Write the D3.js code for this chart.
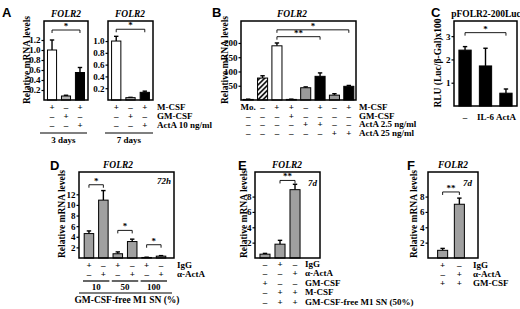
<!DOCTYPE html>
<html>
<head>
<meta charset="utf-8">
<script src="https://cdn.jsdelivr.net/npm/d3@7"></script>
<style>
  body { margin: 0; background: #fff; }
  text { font-family: 'Liberation Serif', 'Times New Roman', serif; font-weight: bold; }
  .letter { font-family: 'Liberation Sans', Arial, sans-serif; font-size: 13px; }
</style>
</head>
<body>
<svg id="fig" width="520" height="309"></svg>
<script>
// ---- data ----
// panel A
const aRowNames = ['M-CSF', 'GM-CSF', 'ActA 10 ng/ml'];
const aSigns = [['+', '–', '+'], ['–', '+', '–'], ['–', '–', '+']];
const aDays = ['3 days', '7 days'];
const a3Means = [1.0, 0.08, 0.55];
const a3Errs = [0.2, 0.015, 0.1];
const a7Means = [1.0, 0.04, 0.13];
const a7Errs = [0.08, 0.005, 0.02];
const a3Ticks = [0.2, 0.4, 0.6, 0.8, 1.0, 1.2];
const a7Ticks = [0.2, 0.4, 0.6, 0.8, 1.0];
const a3Max = 1.58, a7Max = 1.34;
const aBrackets = [[0, 2, '*', 1.4]];
const a7Brackets = [[0, 2, '*', 1.2]];

// panel B
const bRowNames = ['M-CSF', 'GM-CSF', 'ActA 2.5 ng/ml', 'ActA 25 ng/ml'];
const bSigns = [
  ['Mo.', '–', '+', '+', '–', '+', '–', '+'],
  ['–', '–', '–', '+', '–', '–', '–', '–'],
  ['–', '–', '–', '–', '+', '+', '–', '–'],
  ['–', '–', '–', '–', '–', '–', '+', '+']
];
const bMeans = [2, 77, 190, 2, 43, 83, 17, 48];
const bErrs = [1, 8, 10, 1, 3, 12, 5, 3];
const bTicks = [50, 100, 150, 200];
const bMax = 277;
const bBrackets = [[2, 5, '**', 222], [2, 7, '*', 246]];

// panel C
const cLabels = ['–', 'IL-6', 'ActA'];
const cMeans = [2.4, 1.72, 0.55];
const cErrs = [0.15, 0.76, 0.18];
const cTicks = [1, 2, 3];
const cMax = 3.65;
const cBrackets = [[0, 2, '*', 3.15]];

// panel D
const dRowNames = ['IgG', 'α-ActA'];
const dSigns = [['+', '–', '+', '–', '+', '–'], ['–', '+', '–', '+', '–', '+']];
const dGroups = ['10', '50', '100'];
const dMeans = [4.6, 10.9, 0.8, 3.1, 0.1, 0.35];
const dErrs = [0.5, 1.8, 0.35, 0.45, 0.05, 0.1];
const dTicks = [2, 4, 6, 8, 10, 12];
const dMax = 16.2;
const dBrackets = [[0, 1, '*', 13.8], [2, 3, '*', 5.2], [4, 5, '*', 2.5]];

// panel E
const eRowNames = ['IgG', 'α-ActA', 'GM-CSF', 'M-CSF', 'GM-CSF-free M1 SN (50%)'];
const eSigns = [['–', '+', '–'], ['–', '–', '+'], ['+', '–', '–'], ['–', '+', '+'], ['–', '+', '+']];
const eMeans = [0.5, 1.8, 8.9];
const eErrs = [0.1, 0.5, 0.7];
const eTicks = [2, 4, 6, 8];
const eMax = 11.2;
const eBrackets = [[1, 2, '**', 10.1]];

// panel F
const fRowNames = ['IgG', 'α-ActA', 'GM-CSF'];
const fSigns = [['+', '–'], ['–', '+'], ['+', '+']];
const fMeans = [1.0, 7.0];
const fErrs = [0.25, 0.8];
const fTicks = [2, 4, 6, 8];
const fMax = 11.2;
const fBrackets = [[0, 1, '**', 8.6]];

// ---- drawing ----
const svg = d3.select('#fig');
const defs = svg.append('defs');
defs.append('pattern')
  .attr('id', 'hatch')
  .attr('patternUnits', 'userSpaceOnUse')
  .attr('width', 3.5).attr('height', 3.5)
  .attr('patternTransform', 'rotate(45)')
  .call(p => {
    p.append('rect').attr('width', 3.5).attr('height', 3.5).attr('fill', 'white');
    p.append('line').attr('x1', 1).attr('y1', 0).attr('x2', 1).attr('y2', 3.5)
      .attr('stroke', 'black').attr('stroke-width', 1.6);
  });

function letter(t, x, y) {
  svg.append('text').attr('class', 'letter').attr('x', x).attr('y', y).text(t);
}

function label(t, x, y, opts = {}) {
  return svg.append('text')
    .attr('x', x).attr('y', y)
    .attr('font-size', opts.size || 9)
    .attr('text-anchor', opts.anchor || 'start')
    .attr('font-style', opts.italic ? 'italic' : 'normal')
    .text(t);
}

function yLabel(t, x, cy) {
  svg.append('text').attr('transform', `translate(${x},${cy}) rotate(-90)`)
    .attr('text-anchor', 'middle').attr('font-size', 9.5).text(t);
}

// generic bar panel
function panel(o) {
  const g = svg.append('g');
  const xScale = d3.scaleBand()
    .domain(d3.range(o.means.length))
    .range([o.x0, o.bx1 || o.x1])
    .paddingInner(o.pi).paddingOuter(o.po);
  const yScale = d3.scaleLinear().domain([0, o.max]).range([o.y1, o.y0]);
  const bw = xScale.bandwidth();
  const cx = i => xScale(i) + bw / 2;

  // axis ticks
  const yAxis = d3.axisLeft(yScale)
    .tickValues(o.ticks)
    .tickSize(2.5)
    .tickPadding(1)
    .tickFormat(o.fmt || d3.format('d'));
  const ag = g.append('g').attr('transform', `translate(${o.x0},0)`).call(yAxis);
  ag.select('.domain').remove();
  ag.selectAll('line').attr('stroke', 'black').attr('stroke-width', 1.2);
  ag.selectAll('text')
    .attr('font-family', "'Liberation Serif', serif")
    .attr('font-weight', 'bold')
    .attr('font-size', 9)
    .attr('fill', 'black');

  // error bars (upper only)
  o.means.forEach((m, i) => {
    const top = yScale(m + o.errs[i]);
    g.append('line').attr('x1', cx(i)).attr('x2', cx(i))
      .attr('y1', yScale(m)).attr('y2', top)
      .attr('stroke', 'black').attr('stroke-width', 1.4);
    g.append('line').attr('x1', cx(i) - 2.2).attr('x2', cx(i) + 2.2)
      .attr('y1', top).attr('y2', top)
      .attr('stroke', 'black').attr('stroke-width', 1.4);
  });

  // bars
  g.selectAll('rect.bar').data(o.means).enter().append('rect')
    .attr('class', 'bar')
    .attr('x', (d, i) => xScale(i))
    .attr('width', bw)
    .attr('y', d => yScale(d))
    .attr('height', d => o.y1 - yScale(d))
    .attr('fill', (d, i) => o.fills[i] === 'hatch' ? 'url(#hatch)' : o.fills[i])
    .attr('stroke', 'black')
    .attr('stroke-width', 1);

  // frame
  g.append('rect')
    .attr('x', o.x0).attr('y', o.y0)
    .attr('width', o.x1 - o.x0).attr('height', o.y1 - o.y0)
    .attr('fill', 'none').attr('stroke', 'black').attr('stroke-width', 1.5);

  // significance brackets
  (o.brackets || []).forEach(([a, b, star, lvl]) => {
    const y = yScale(lvl);
    g.append('path')
      .attr('d', `M${cx(a)},${y + 3} L${cx(a)},${y} L${cx(b)},${y} L${cx(b)},${y + 3}`)
      .attr('fill', 'none').attr('stroke', 'black').attr('stroke-width', 0.9);
    g.append('text')
      .attr('x', (cx(a) + cx(b)) / 2).attr('y', y - 1)
      .attr('text-anchor', 'middle').attr('font-size', 9)
      .text(star);
  });

  // sign rows under the axis
  (o.signs || []).forEach((row, r) => {
    row.forEach((s, i) => {
      g.append('text')
        .attr('x', cx(i)).attr('y', o.rowY + r * o.rowStep)
        .attr('text-anchor', 'middle').attr('font-size', 9)
        .text(s);
    });
  });
  (o.rowNames || []).forEach((n, r) => {
    g.append('text')
      .attr('x', o.nameX).attr('y', o.rowY + r * o.rowStep)
      .attr('font-size', 9).text(n);
  });
  return {xScale, yScale, cx, bw};
}

// ---- Panel A ----
letter('A', 2, 17);
label('FOLR2', 66, 17, {anchor: 'middle', italic: true, size: 9.5});
label('FOLR2', 130, 17, {anchor: 'middle', italic: true, size: 9.5});
yLabel('Relative mRNA levels', 30, 60);
panel({x0: 44, x1: 88, y0: 21, y1: 100, max: a3Max, ticks: a3Ticks,
  fmt: d3.format('.1f'), means: a3Means, errs: a3Errs, fills: ['white', '#b4b4b4', 'black'],
  pi: 0.35, po: 0.25, brackets: aBrackets, signs: aSigns, rowY: 110, rowStep: 9});
panel({x0: 108, x1: 153, y0: 21, y1: 100, max: a7Max, ticks: a7Ticks,
  fmt: d3.format('.1f'), means: a7Means, errs: a7Errs, fills: ['white', '#b4b4b4', 'black'],
  pi: 0.35, po: 0.25, brackets: a7Brackets, signs: aSigns, rowY: 110, rowStep: 9,
  rowNames: aRowNames, nameX: 157});
[[40, 87], [105, 153]].forEach(([a, b], i) => {
  svg.append('line').attr('x1', a).attr('x2', b).attr('y1', 133).attr('y2', 133)
    .attr('stroke', 'black').attr('stroke-width', 1.2);
  label(aDays[i], (a + b) / 2, 143, {anchor: 'middle'});
});

// ---- Panel B ----
letter('B', 212, 17);
label('FOLR2', 292, 17, {anchor: 'middle', italic: true, size: 9.5});
yLabel('Relative mRNA levels', 228, 60);
panel({x0: 241, x1: 356, y0: 21, y1: 100, max: bMax, ticks: bTicks,
  means: bMeans, errs: bErrs,
  fills: ['black', 'hatch', 'white', 'black', '#9a9a9a', 'black', '#9a9a9a', 'black'],
  pi: 0.3, po: 0.15, brackets: bBrackets, signs: bSigns, rowY: 110, rowStep: 8.5,
  rowNames: bRowNames, nameX: 359});

// ---- Panel C ----
letter('C', 431, 17);
label('pFOLR2-200Luc', 486, 17, {anchor: 'middle', size: 9.5});
yLabel('RLU (Luc/β-Gal)x100', 441, 63);
panel({x0: 454, x1: 517, y0: 21, y1: 106, max: cMax, ticks: cTicks,
  means: cMeans, errs: cErrs, fills: ['black', 'black', 'black'],
  pi: 0.4, po: 0.24, brackets: cBrackets, signs: [cLabels], rowY: 120, rowStep: 0});

// ---- Panel D ----
letter('D', 50, 170);
label('FOLR2', 118, 168, {anchor: 'middle', italic: true, size: 9.5});
yLabel('Relative mRNA levels', 65, 214);
const pd = panel({x0: 79, x1: 174, bx1: 171, y0: 172, y1: 258, max: dMax, ticks: dTicks,
  means: dMeans, errs: dErrs, fills: d3.range(6).map(() => '#a0a0a0'),
  pi: 0.34, po: 0.36, brackets: dBrackets, signs: dSigns, rowY: 268, rowStep: 9,
  rowNames: dRowNames, nameX: 177});
label('72h', 171, 184, {anchor: 'end', italic: true});
dGroups.forEach((gname, k) => {
  const a = pd.cx(2 * k) - 6, b = pd.cx(2 * k + 1) + 6;
  svg.append('line').attr('x1', a).attr('x2', b).attr('y1', 281).attr('y2', 281)
    .attr('stroke', 'black').attr('stroke-width', 1.2);
  label(gname, (a + b) / 2, 290, {anchor: 'middle'});
});
svg.append('line').attr('x1', 79).attr('x2', 172).attr('y1', 293).attr('y2', 293)
  .attr('stroke', 'black').attr('stroke-width', 1.2);
label('GM-CSF-free M1 SN (%)', 127, 303, {anchor: 'middle', size: 9.5});

// ---- Panel E ----
letter('E', 238, 170);
label('FOLR2', 287, 168, {anchor: 'middle', italic: true, size: 9.5});
yLabel('Relative mRNA levels', 247, 214);
panel({x0: 255, x1: 320, bx1: 305, y0: 172, y1: 258, max: eMax, ticks: eTicks,
  means: eMeans, errs: eErrs, fills: ['#a0a0a0', '#a0a0a0', '#a0a0a0'],
  pi: 0.33, po: 0.33, brackets: eBrackets, signs: eSigns, rowY: 267, rowStep: 9.4,
  rowNames: eRowNames, nameX: 305});
label('7d', 317, 186, {anchor: 'end', italic: true});

// ---- Panel F ----
letter('F', 407, 170);
label('FOLR2', 453, 168, {anchor: 'middle', italic: true, size: 9.5});
yLabel('Relative mRNA levels', 417, 214);
panel({x0: 428, x1: 478, bx1: 474, y0: 172, y1: 258, max: fMax, ticks: fTicks,
  means: fMeans, errs: fErrs, fills: ['#a0a0a0', '#a0a0a0'],
  pi: 0.4, po: 0.575, brackets: fBrackets, signs: fSigns, rowY: 268, rowStep: 9.2,
  rowNames: fRowNames, nameX: 473});
label('7d', 472, 186, {anchor: 'end', italic: true});
</script>
</body>
</html>
